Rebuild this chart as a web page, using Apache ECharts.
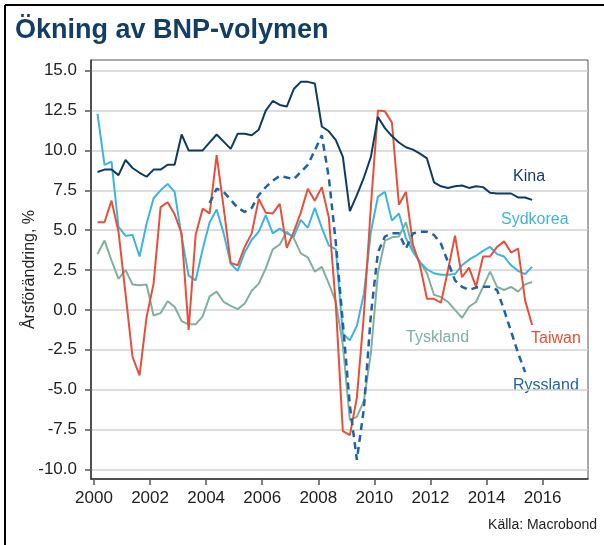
<!DOCTYPE html>
<html>
<head>
<meta charset="utf-8">
<script src="https://cdn.jsdelivr.net/npm/echarts@6/dist/echarts.min.js"></script>
<style>
  html, body { margin: 0; padding: 0; background: #fff; }
  #chart { width: 604px; height: 545px; }
</style>
</head>
<body>
<div id="chart"></div>
<script>
// kvartalsdata, första punkten = 2000 kv1
const startYear = 2000;
const yearTicks = [2000, 2002, 2004, 2006, 2008, 2010, 2012, 2014, 2016];
const valueTicks = [-10, -7.5, -5, -2.5, 0, 2.5, 5, 7.5, 10, 12.5, 15];

const kina = [8.65, 8.8, 8.8, 8.45, 9.4, 8.9, 8.6, 8.35, 8.8, 8.8, 9.1, 9.1,
  11.0, 10.0, 10.0, 10.0, 10.5, 11.0, 10.55, 10.1, 11.05, 11.05, 10.95, 11.3,
  12.5, 13.1, 12.85, 12.75, 13.85, 14.3, 14.3, 14.2, 11.5, 11.2, 10.65, 9.6,
  6.2, 7.2, 8.3, 9.6, 12.1, 11.4, 10.9, 10.5, 10.2, 10.05, 9.8, 9.5,
  8.0, 7.75, 7.65, 7.75, 7.8, 7.65, 7.75, 7.7, 7.35, 7.3, 7.3, 7.3, 7.05, 7.05, 6.9];

const sydkorea = [12.3, 9.1, 9.3, 5.2, 4.65, 4.7, 3.35, 5.4, 7.0, 7.5, 7.9, 7.4,
  4.6, 2.15, 1.85, 3.8, 5.5, 6.3, 4.8, 2.9, 2.45, 3.6, 4.4, 4.9,
  5.95, 4.8, 5.1, 4.8, 4.6, 5.65, 5.15, 6.4, 5.15, 4.05, 3.8, -1.5,
  -1.9, -1.0, 1.0, 4.9, 7.1, 7.4, 5.6, 6.05, 4.5, 3.65, 3.0, 2.55,
  2.3, 2.2, 2.2, 2.25, 2.8, 3.15, 3.4, 3.7, 3.95, 3.5, 3.35, 2.8, 2.45, 2.25, 2.7];

const taiwan = [5.5, 5.5, 6.85, 4.9, 1.0, -2.95, -4.1, -0.45, 1.65, 6.45, 6.75, 6.0,
  4.8, -1.25, 4.7, 6.35, 6.05, 9.7, 6.4, 2.95, 2.8, 3.95, 4.8, 6.95,
  6.1, 6.05, 6.65, 3.9, 4.9, 6.1, 7.6, 6.85, 7.7, 5.8, 0.3, -7.6,
  -7.85, -5.5, -0.3, 6.5, 12.5, 12.45, 11.75, 6.6, 7.4, 4.1, 2.8, 0.7,
  0.7, 0.45, 2.5, 4.65, 2.05, 2.65, 1.45, 3.35, 3.35, 3.95, 4.3, 3.6, 3.85, 0.6, -0.95];

const tyskland = [3.5, 4.35, 3.1, 1.95, 2.5, 1.6, 1.55, 1.6, -0.35, -0.2, 0.55, 0.2,
  -0.7, -0.9, -0.9, -0.4, 0.85, 1.15, 0.5, 0.25, 0.05, 0.4, 1.2, 1.65,
  2.6, 3.8, 4.1, 4.9, 4.5, 3.55, 3.3, 2.4, 2.7, 1.65, 0.5, -2.2,
  -6.9, -6.7, -5.7, -2.7, 2.3, 4.35, 4.55, 4.6, 5.5, 3.75, 3.0, 2.3,
  0.95, 0.8, 0.5, 0.0, -0.5, 0.2, 0.5, 1.45, 2.4, 1.45, 1.25, 1.45, 1.15, 1.6, 1.75];

const ryssland = [null, null, null, null, null, null, null, null, null, null, null, null,
  null, null, null, null, 6.7, 7.6, 7.4, 6.9, 6.4, 6.15, 6.4, 7.2,
  7.7, 8.1, 8.4, 8.3, 8.2, 8.65, 9.1, 10.0, 10.95, 8.3, 4.2, -0.8,
  -6.0, -9.4, -6.2, -0.3, 3.6, 4.6, 4.8, 4.8, 3.85, 4.8, 4.9, 4.9,
  4.7, 4.15, 3.0, 1.85, 1.45, 1.25, 1.4, 1.45, 1.45, 1.25, 0.0, -1.35, -2.7, -3.9, null];

// kvartalets mitt som x-värde
function toPoints(values) {
  return values.map(function (v, i) {
    return [startYear + (i + 0.5) / 4, v];
  });
}

const font = 'Liberation Sans, Arial, sans-serif';

function lineSeries(name, values, color, dashed) {
  return {
    name: name,
    type: 'line',
    data: toPoints(values),
    showSymbol: false,
    silent: true,
    animation: false,
    lineStyle: {
      color: color,
      width: dashed ? 2.5 : 2,
      type: dashed ? [7, 5] : 'solid',
    },
  };
}

const chart = echarts.init(document.getElementById('chart'), null, { renderer: 'canvas' });

const option = {
  animation: false,
  grid: {
    left: 91,
    right: 16,
    top: 60,
    bottom: 66,
    show: true,
    borderColor: '#555',
    borderWidth: 1,
  },
  xAxis: {
    type: 'value',
    min: 1999.893,
    max: 2017.618,
    axisLine: { onZero: false, lineStyle: { color: '#333', width: 1.5 } },
    axisTick: { customValues: yearTicks, length: 6, lineStyle: { color: '#555', width: 1.5 } },
    axisLabel: {
      customValues: yearTicks,
      margin: 11,
      color: '#222',
      fontSize: 17,
      fontFamily: font,
      formatter: function (v) { return String(Math.round(v)); },
    },
    splitLine: { show: false },
  },
  yAxis: {
    type: 'value',
    min: -10.6,
    max: 15.67,
    name: 'Årsförändring, %',
    nameLocation: 'middle',
    nameRotate: 90,
    nameGap: 53,
    nameMoveOverlap: false,
    nameTextStyle: { color: '#222', fontSize: 16, fontFamily: font },
    axisLine: { show: true, lineStyle: { color: '#333', width: 1.5 } },
    axisTick: { show: true, customValues: valueTicks, length: 6, lineStyle: { color: '#555', width: 1.5 } },
    axisLabel: {
      customValues: valueTicks,
      margin: 14,
      color: '#222',
      fontSize: 17,
      fontFamily: font,
      formatter: function (v) { return v.toFixed(1); },
    },
    splitLine: { show: true, lineStyle: { color: '#d2d2d2', width: 1.5 } },
  },
  series: [
    lineSeries('Tyskland', tyskland, '#80b19d', false),
    lineSeries('Sydkorea', sydkorea, '#3cb4e2', false),
    lineSeries('Taiwan', taiwan, '#e6503a', false),
    lineSeries('Kina', kina, '#0f3b5f', false),
    lineSeries('Ryssland', ryssland, '#1f62a5', true),
  ],
  graphic: [
    { type: 'line', shape: { x1: 5, y1: 5, x2: 604, y2: 5 }, style: { stroke: '#000', lineWidth: 2 } },
    { type: 'line', shape: { x1: 5, y1: 5, x2: 5, y2: 545 }, style: { stroke: '#000', lineWidth: 2 } },
    {
      type: 'text', x: 15, y: 17,
      style: { text: 'Ökning av BNP-volymen', fill: '#123e66', font: 'bold 27px ' + font },
    },
    { type: 'text', x: 513, y: 177, style: { text: 'Kina', fill: '#0f3b5f', font: '16px ' + font, textVerticalAlign: 'middle' } },
    { type: 'text', x: 501, y: 220, style: { text: 'Sydkorea', fill: '#3cb4e2', font: '16px ' + font, textVerticalAlign: 'middle' } },
    { type: 'text', x: 406, y: 338, style: { text: 'Tyskland', fill: '#80b19d', font: '16px ' + font, textVerticalAlign: 'middle' } },
    { type: 'text', x: 531, y: 339, style: { text: 'Taiwan', fill: '#e6503a', font: '16px ' + font, textVerticalAlign: 'middle' } },
    { type: 'text', x: 513, y: 386, style: { text: 'Ryssland', fill: '#1f62a5', font: '16px ' + font, textVerticalAlign: 'middle' } },
    { type: 'text', x: 597, y: 525, style: { text: 'Källa: Macrobond', fill: '#222', font: '14px ' + font, textAlign: 'right', textVerticalAlign: 'middle' } },
  ],
};

chart.setOption(option);
</script>
</body>
</html>
